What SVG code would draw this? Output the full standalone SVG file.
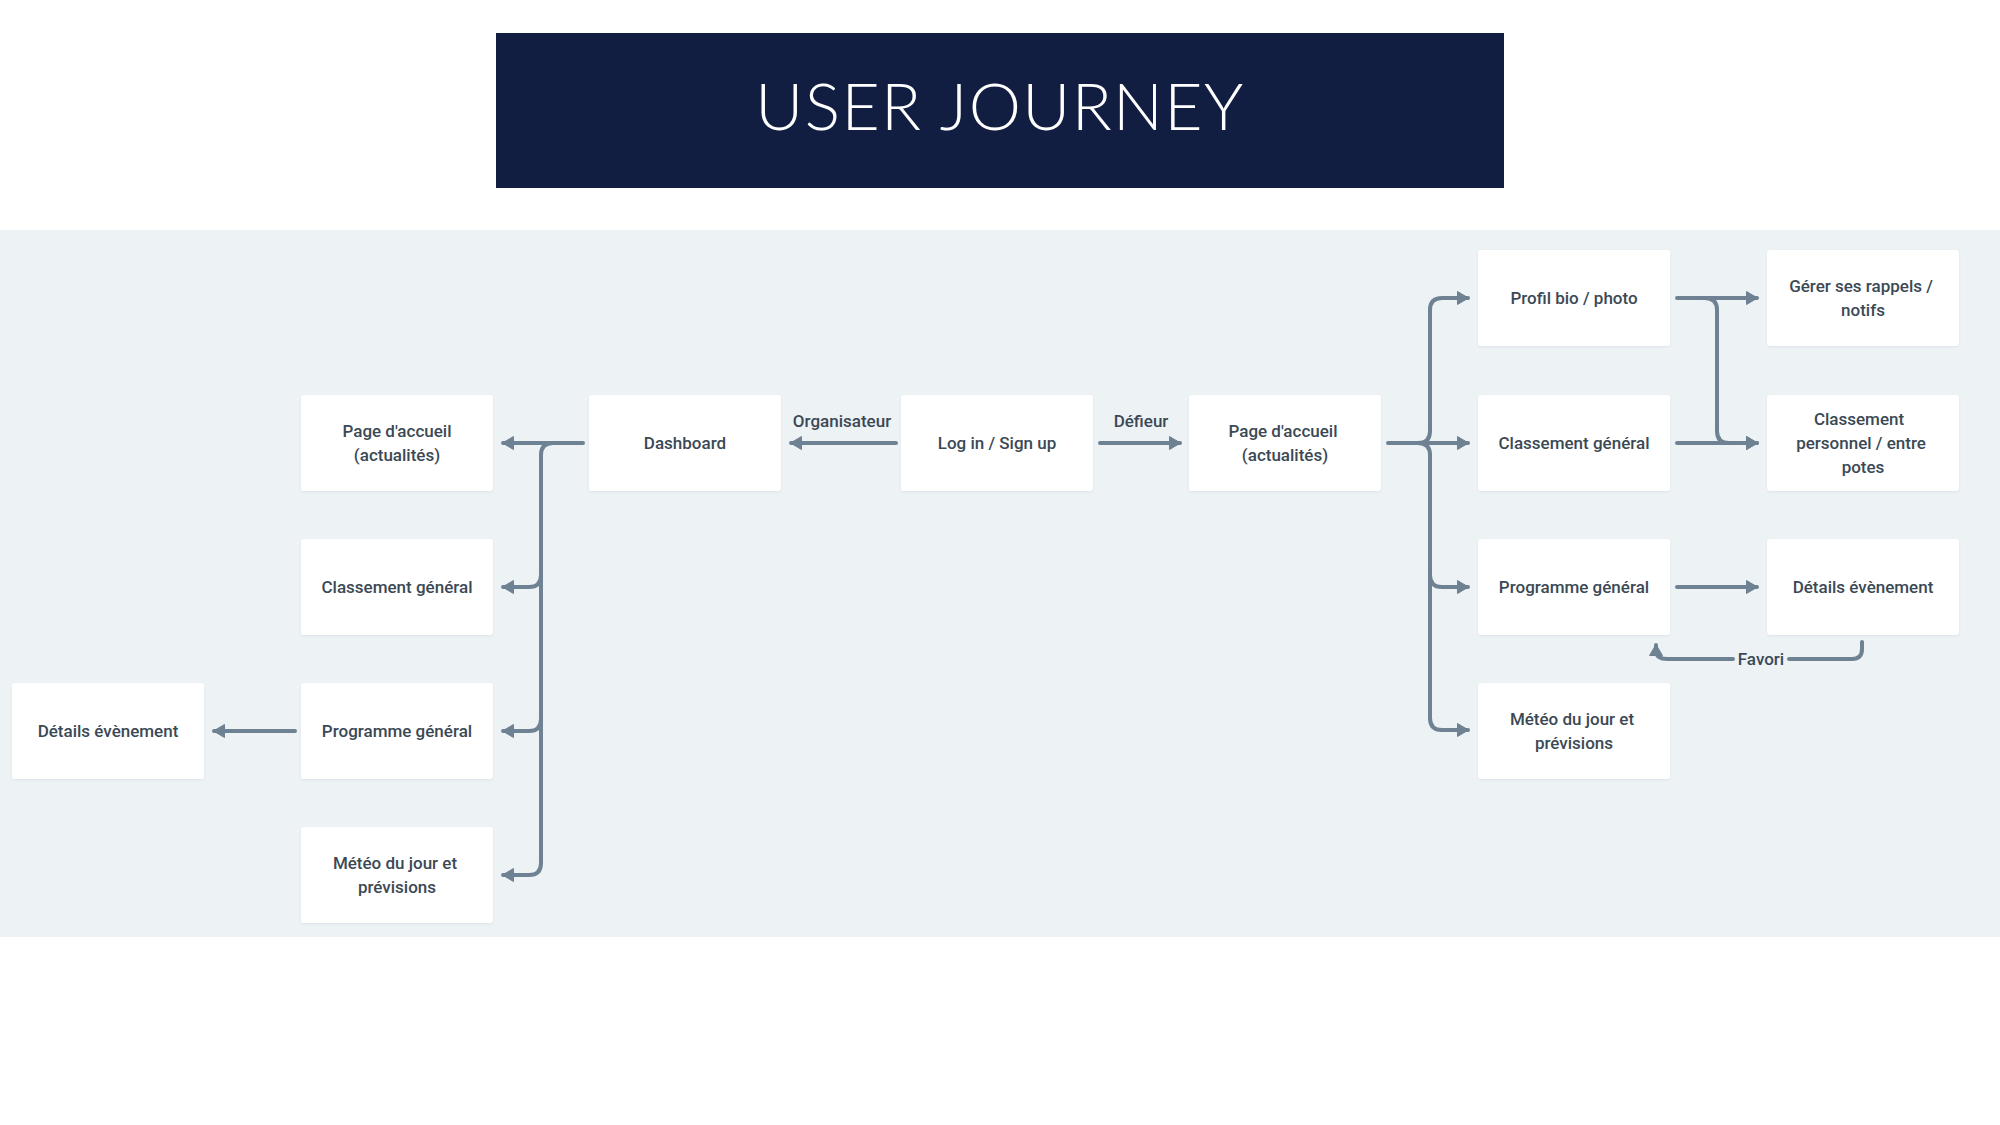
<svg xmlns="http://www.w3.org/2000/svg" width="2000" height="1125" viewBox="0 0 2000 1125">
  <defs>
    <marker id="ah" viewBox="0 0 12 14" refX="11" refY="7" markerWidth="12" markerHeight="14" markerUnits="userSpaceOnUse" orient="auto">
      <path d="M0.5,0.5 L11.5,7 L0.5,13.5 Z" fill="#6e8293" stroke="#6e8293" stroke-width="1" stroke-linejoin="round"/>
    </marker>
    <filter id="sh" x="-5%" y="-5%" width="110%" height="115%">
      <feDropShadow dx="0" dy="1" stdDeviation="1.2" flood-color="#8a9aa8" flood-opacity="0.18"/>
    </filter>
  </defs>
  <style>
    .box { fill: #ffffff; filter: url(#sh); }
    .t { font-family: Roboto, "Liberation Sans", sans-serif; font-size: 17px; font-weight: 500; fill: #3b4955; text-anchor: middle; }
    .c { fill: none; stroke: #6e8293; stroke-width: 4; stroke-linecap: round; stroke-linejoin: round; }
    .a { marker-end: url(#ah); }
  </style>
  <rect x="0" y="0" width="2000" height="1125" fill="#ffffff"/>
  <g id="title">
    <rect x="496" y="33" width="1008" height="155" fill="#111e42"/>
    <text x="1000" y="130" text-anchor="middle" font-family="Lato, 'Open Sans', sans-serif" font-weight="300" font-size="66" letter-spacing="1.4" fill="#ffffff">USER JOURNEY</text>
  </g>
  <rect id="panel" x="0" y="230" width="2000" height="707" fill="#edf2f5"/>

  <g id="connectors">
    <!-- left tree -->
    <path class="c a" d="M583,443 H503"/>
    <path class="c a" d="M553,443 Q541,443 541,455 V863 Q541,875 529,875 H503"/>
    <path class="c a" d="M541,575 Q541,587 529,587 H503"/>
    <path class="c a" d="M541,719 Q541,731 529,731 H503"/>
    <path class="c a" d="M295,731 H214"/>
    <!-- center -->
    <path class="c a" d="M896,443 H791"/>
    <path class="c a" d="M1100,443 H1180"/>
    <!-- right tree -->
    <path class="c a" d="M1388,443 H1468"/>
    <path class="c a" d="M1418,443 Q1430,443 1430,431 V310 Q1430,298 1442,298 H1468"/>
    <path class="c a" d="M1418,443 Q1430,443 1430,455 V718 Q1430,730 1442,730 H1468"/>
    <path class="c a" d="M1430,575 Q1430,587 1442,587 H1468"/>
    <path class="c a" d="M1677,298 H1757"/>
    <path class="c a" d="M1677,443 H1757"/>
    <path class="c a" d="M1705,298 Q1717,298 1717,310 V431 Q1717,443 1729,443 H1757"/>
    <path class="c a" d="M1677,587 H1757"/>
    <!-- Favori loop -->
    <path class="c" d="M1862,642 V649 Q1862,659 1852,659 H1789"/>
    <path class="c a" d="M1733,659 H1668 Q1656,659 1656,651 V645"/>
    <text class="t" x="1141" y="427">Défieur</text>
    <text class="t" x="842" y="427">Organisateur</text>
    <text class="t" x="1761" y="665">Favori</text>
  </g>

  <!-- left side -->
  <g id="n-details-left">
    <rect class="box" x="12" y="683" width="192" height="96" rx="3"/>
    <text class="t" x="108" y="737">Détails évènement</text>
  </g>
  <g id="n-accueil-left">
    <rect class="box" x="301" y="395" width="192" height="96" rx="3"/>
    <text class="t" x="397" y="437">Page d'accueil</text>
    <text class="t" x="397" y="461">(actualités)</text>
  </g>
  <g id="n-classement-left">
    <rect class="box" x="301" y="539" width="192" height="96" rx="3"/>
    <text class="t" x="397" y="593">Classement général</text>
  </g>
  <g id="n-programme-left">
    <rect class="box" x="301" y="683" width="192" height="96" rx="3"/>
    <text class="t" x="397" y="737">Programme général</text>
  </g>
  <g id="n-meteo-left">
    <rect class="box" x="301" y="827" width="192" height="96" rx="3"/>
    <text class="t" x="395" y="869">Météo du jour et</text>
    <text class="t" x="397" y="893">prévisions</text>
  </g>
  <g id="n-dashboard">
    <rect class="box" x="589" y="395" width="192" height="96" rx="3"/>
    <text class="t" x="685" y="449">Dashboard</text>
  </g>
  <g id="n-login">
    <rect class="box" x="901" y="395" width="192" height="96" rx="3"/>
    <text class="t" x="997" y="449">Log in / Sign up</text>
  </g>
  <g id="n-accueil-right">
    <rect class="box" x="1189" y="395" width="192" height="96" rx="3"/>
    <text class="t" x="1283" y="437">Page d'accueil</text>
    <text class="t" x="1285" y="461">(actualités)</text>
  </g>
  <!-- right side col 1 -->
  <g id="n-profil">
    <rect class="box" x="1478" y="250" width="192" height="96" rx="3"/>
    <text class="t" x="1574" y="304">Profil bio / photo</text>
  </g>
  <g id="n-classement-right">
    <rect class="box" x="1478" y="395" width="192" height="96" rx="3"/>
    <text class="t" x="1574" y="449">Classement général</text>
  </g>
  <g id="n-programme-right">
    <rect class="box" x="1478" y="539" width="192" height="96" rx="3"/>
    <text class="t" x="1574" y="593">Programme général</text>
  </g>
  <g id="n-meteo-right">
    <rect class="box" x="1478" y="683" width="192" height="96" rx="3"/>
    <text class="t" x="1572" y="725">Météo du jour et</text>
    <text class="t" x="1574" y="749">prévisions</text>
  </g>
  <!-- right side col 2 -->
  <g id="n-rappels">
    <rect class="box" x="1767" y="250" width="192" height="96" rx="3"/>
    <text class="t" x="1861" y="292">Gérer ses rappels /</text>
    <text class="t" x="1863" y="316">notifs</text>
  </g>
  <g id="n-classement-perso">
    <rect class="box" x="1767" y="395" width="192" height="96" rx="3"/>
    <text class="t" x="1859" y="425">Classement</text>
    <text class="t" x="1861" y="449">personnel / entre</text>
    <text class="t" x="1863" y="473">potes</text>
  </g>
  <g id="n-details-right">
    <rect class="box" x="1767" y="539" width="192" height="96" rx="3"/>
    <text class="t" x="1863" y="593">Détails évènement</text>
  </g>
</svg>
